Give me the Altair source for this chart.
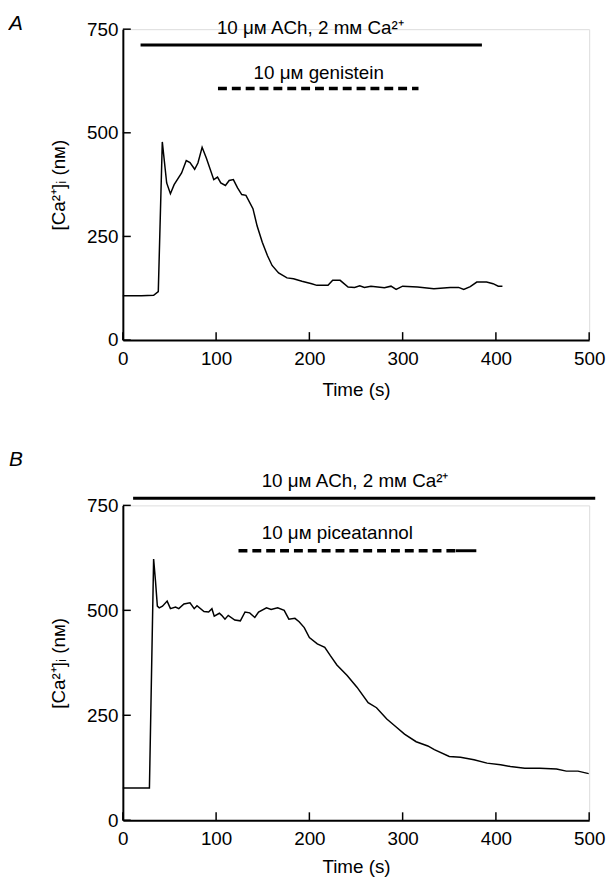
import altair as alt
import pandas as pd

# ---------------- data ----------------
A_time = [0, 20, 33, 38, 42.3, 47, 51, 55, 63, 68, 72, 77, 80.5, 85, 89.5, 97.5, 101.5, 105, 110,
          114, 118.5, 123, 127.5, 132, 139.5, 144, 149.5, 155, 160, 167, 176, 183, 192, 202.5, 208,
          220, 225, 233, 241.5, 248.5, 254, 259, 266, 280.5, 287.5, 293, 300, 316, 333.5, 351, 360,
          365.5, 372.5, 379.5, 390, 397, 402.5, 407]
A_conc = [107, 107, 108, 117, 478, 379, 353, 375, 403, 433, 428, 412, 427, 465, 439, 387, 393, 379,
          373, 385, 387, 367, 351, 349, 317, 275, 236, 204, 180, 162, 150, 148, 142, 136, 132, 132,
          144, 144, 128, 127, 131, 127, 130, 126, 130, 122, 130, 128, 124, 127, 127, 122, 129, 140,
          140, 136, 130, 130]

B_time = [0, 28.5, 33, 35, 37, 39, 42.5, 47.5, 51, 56.5, 60, 65.5, 72, 76.5, 79.5, 87, 92, 95.5, 98,
          103.5, 106, 109.5, 113, 120, 126, 131, 136, 141.5, 145.5, 154, 159, 166, 173, 178, 184.5,
          189, 194.5, 200, 208.5, 216.5, 222.5, 229.5, 240.5, 251, 263, 272, 283, 291.5, 302, 314.5,
          327, 334, 350, 362, 376.5, 390.5, 405, 415.5, 431, 447, 465, 475.5, 488, 499.5]
B_conc = [77, 77, 622, 570, 510, 506, 510, 522, 504, 508, 504, 515, 518, 504, 511, 497, 496, 504,
          486, 493, 488, 479, 488, 477, 475, 496, 494, 483, 496, 506, 502, 506, 500, 479, 481, 473,
          459, 435, 420, 412, 392, 370, 345, 317, 280, 268, 241, 225, 205, 187, 177, 168, 152, 150,
          144, 136, 132, 128, 124, 124, 122, 117, 117, 111]

# application bars
A_bar_start = [19, 102]
A_bar_end = [385, 317]
A_bar_level = [712, 607]
A_bar_style = ["solid", "dashed"]

B_bar_start = [11, 124, 357]
B_bar_end = [506.5, 357, 379]
B_bar_level = [767, 642, 642]
B_bar_style = ["solid", "dashed", "solid"]

# bar labels
A_label_text = ["10 \u03bc\u1d0d ACh, 2 m\u1d0d Ca\u00b2\u207a", "10 \u03bc\u1d0d genistein"]
A_label_time = [201, 210]
A_label_level = [752, 645]

B_label_text = ["10 \u03bc\u1d0d ACh, 2 m\u1d0d Ca\u00b2\u207a", "10 \u03bc\u1d0d piceatannol"]
B_label_time = [249, 230]
B_label_level = [809, 683]

x_ticks = [0, 100, 200, 300, 400, 500]
y_ticks = [0, 250, 500, 750]

X_TITLE = "Time (s)"
Y_TITLE = "[Ca\u00b2\u207a]\u1d62 (n\u1d0d)"

FONT = "Liberation Sans"
FS = 19
W = 471


def panel(times, concs, bs, be, bl, bst, lt, ltime, llev, letter, H, toff, tpad):
    xs = alt.Scale(domain=[0, 500], nice=False, zero=True)
    ys = alt.Scale(domain=[0, 750], nice=False, zero=True)
    xa = alt.Axis(values=x_ticks, ticks=False, grid=False, labelPadding=10, titlePadding=tpad,
                  domainWidth=2, domainColor="black", labelColor="black", titleColor="black",
                  labelFontSize=FS, titleFontSize=FS, titleFontWeight="normal", labelFlush=False,
                  labelFont=FONT, titleFont=FONT)
    ya = alt.Axis(values=y_ticks, ticks=False, grid=False, labelPadding=5, titlePadding=18,
                  domainWidth=2, domainColor="black", labelColor="black", titleColor="black",
                  labelFontSize=FS, titleFontSize=FS, titleFontWeight="normal", labelFlush=False,
                  labelFont=FONT, titleFont=FONT)

    def X(f):
        return alt.X(f, scale=xs, axis=xa, title=X_TITLE)

    def Y(f):
        return alt.Y(f, scale=ys, axis=ya, title=Y_TITLE)

    trace = pd.DataFrame({"t": times, "v": concs})
    bars = pd.DataFrame({"t": bs, "t2": be, "v": bl, "style": bst})
    labels = pd.DataFrame({"t": ltime, "v": llev, "text": lt})
    xt = pd.DataFrame({"t": x_ticks})
    yt = pd.DataFrame({"v": y_ticks})

    line = alt.Chart(trace).mark_line(color="black", strokeWidth=1.5).encode(
        x=X("t:Q"), y=Y("v:Q"))
    solid = alt.Chart(bars).transform_filter(alt.datum.style == "solid").mark_rule(
        color="black", strokeWidth=3).encode(x=X("t:Q"), x2="t2:Q", y=Y("v:Q"))
    dashed = alt.Chart(bars).transform_filter(alt.datum.style == "dashed").mark_rule(
        color="black", strokeWidth=3.5, strokeDash=[9, 5]).encode(x=X("t:Q"), x2="t2:Q", y=Y("v:Q"))
    text = alt.Chart(labels).mark_text(font=FONT, fontSize=FS, color="black",
                                       baseline="middle", align="center").encode(
        x=X("t:Q"), y=Y("v:Q"), text="text:N")
    xtick = alt.Chart(xt).mark_rule(color="black", strokeWidth=1.5).encode(
        x=X("t:Q"), y=alt.value(H), y2=alt.value(H - 8))
    ytick = alt.Chart(yt).mark_rule(color="black", strokeWidth=1.5).encode(
        y=Y("v:Q"), x=alt.value(0), x2=alt.value(8))

    return alt.layer(line, solid, dashed, text, xtick, ytick).properties(
        width=W, height=H,
        title=alt.TitleParams(letter, anchor="start", frame="group", dx=-115,
                              offset=toff, fontSize=21, fontStyle="italic",
                              fontWeight="normal", font=FONT, color="black"))


pA = panel(A_time, A_conc, A_bar_start, A_bar_end, A_bar_level, A_bar_style,
           A_label_text, A_label_time, A_label_level, "A", 314, -15, 12)
pB = panel(B_time, B_conc, B_bar_start, B_bar_end, B_bar_level, B_bar_style,
           B_label_text, B_label_time, B_label_level, "B", 318, 2, 9)

chart = alt.vconcat(pA, pB, spacing=48).properties(
    padding={"left": 0, "top": 0, "right": 0, "bottom": 0}
).configure_view(strokeWidth=0).configure(font=FONT)

chart.save("out.html", embed_options={"renderer": "svg", "actions": False})
